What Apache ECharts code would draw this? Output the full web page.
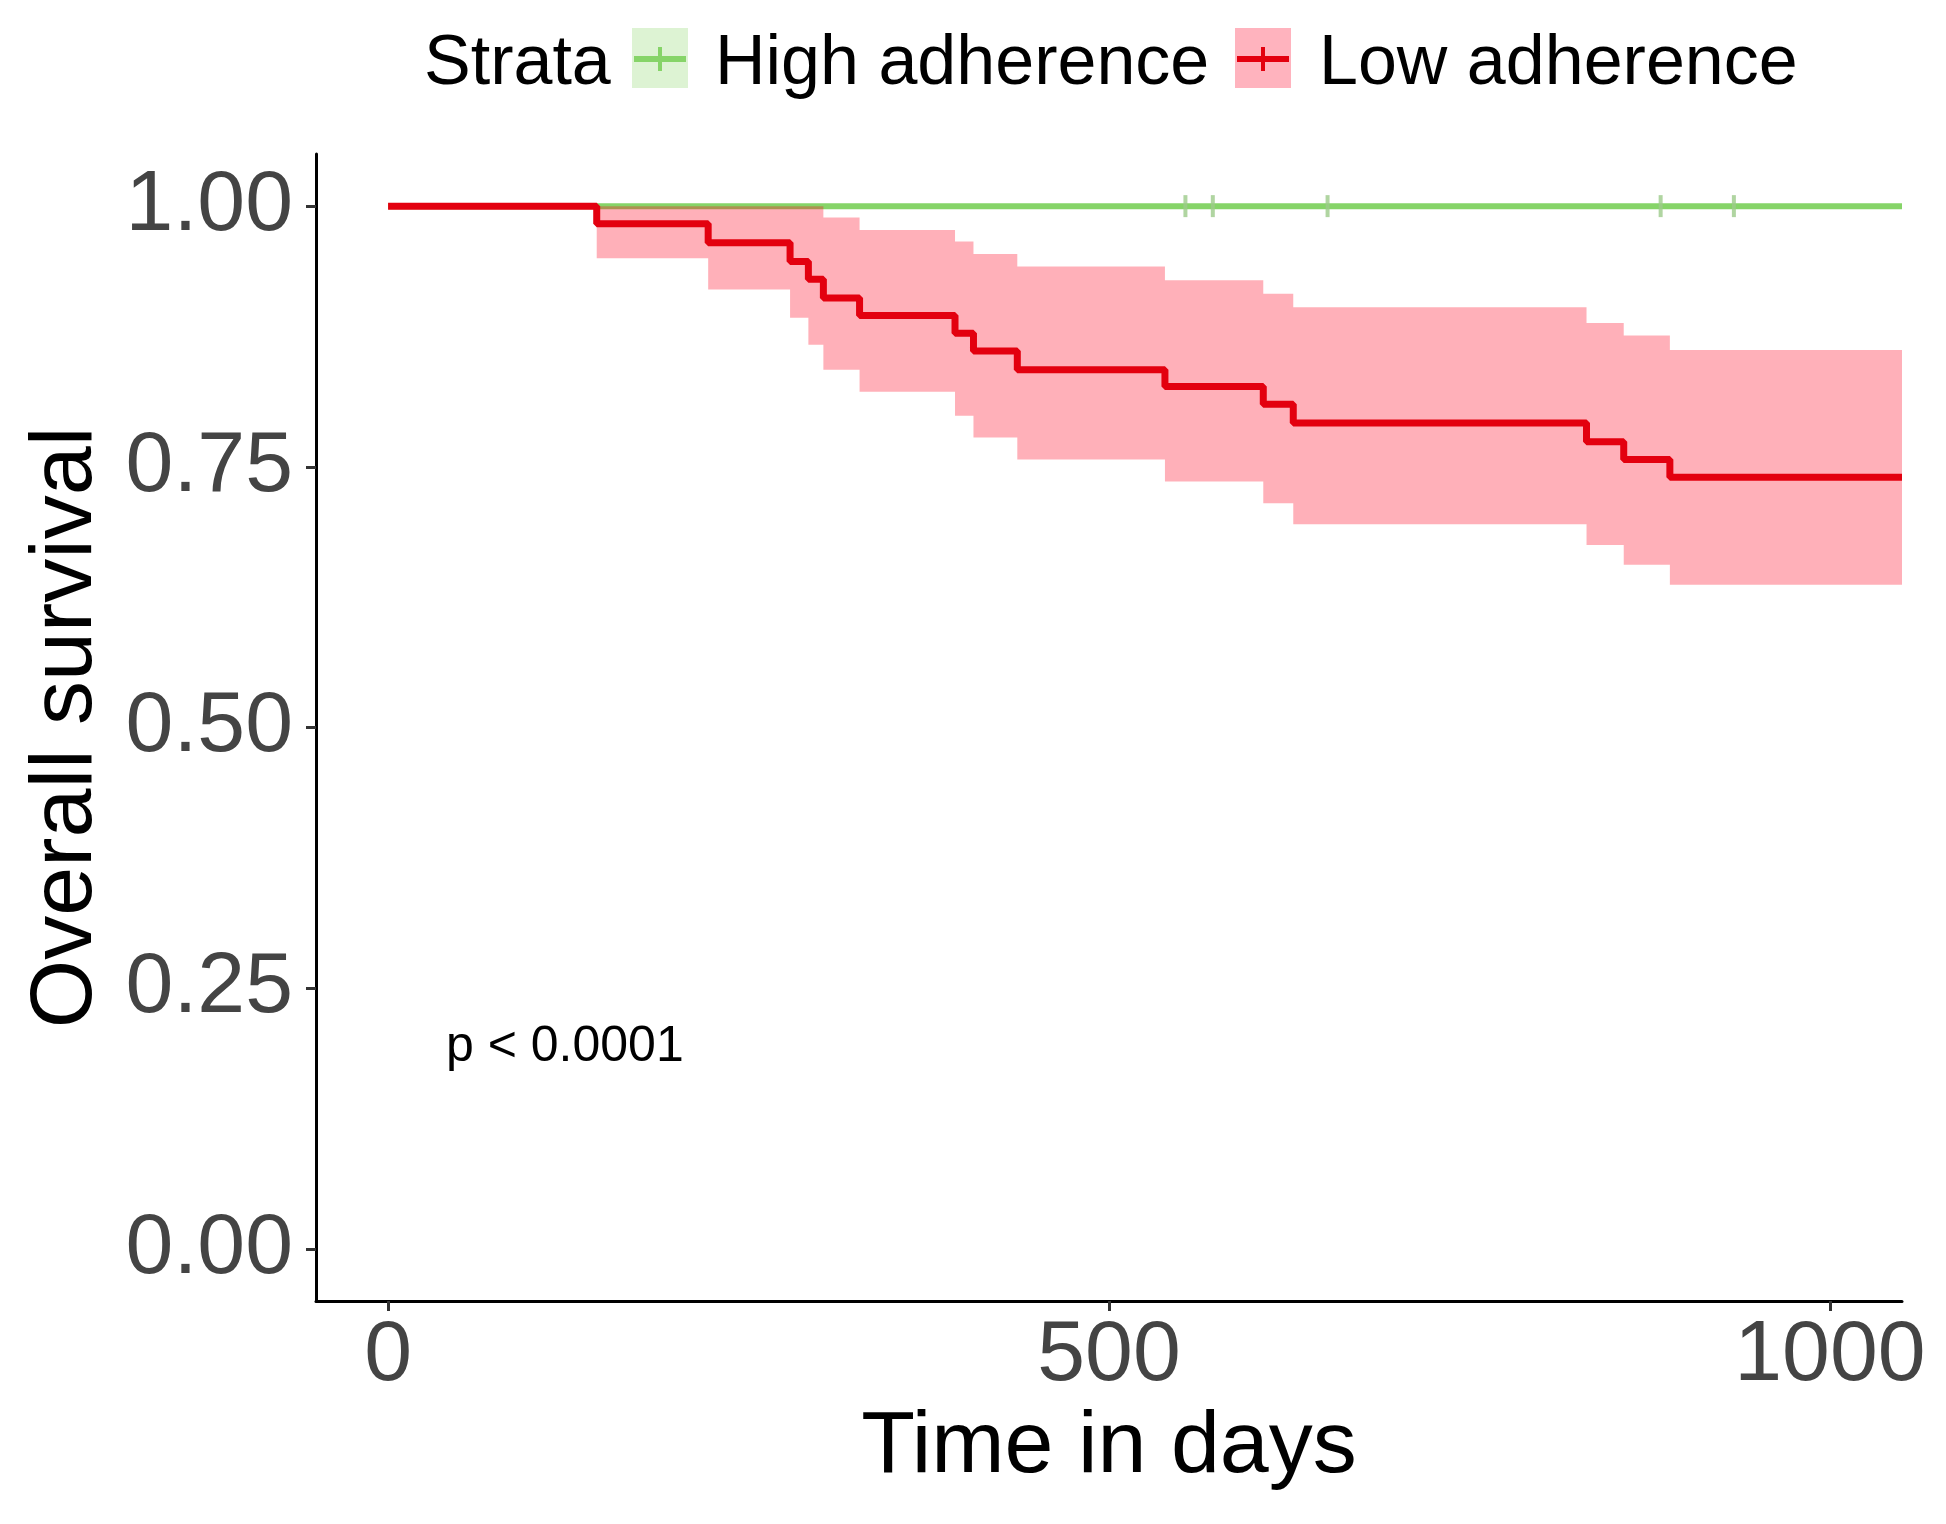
<!DOCTYPE html>
<html>
<head>
<meta charset="utf-8">
<title>Overall survival by adherence</title>
<script src="https://cdn.jsdelivr.net/npm/echarts@6.0.0/dist/echarts.min.js"></script>
<style>
  html, body { margin: 0; padding: 0; background: #fff; }
  #chart { width: 1946px; height: 1524px; }
</style>
</head>
<body>
<div id="chart"></div>
<script>
// Low adherence: Kaplan-Meier steps (time in days, survival)
var lowTimes = [0, 144.7, 222, 278.8, 291.5, 301.9, 327, 393.2, 406, 436.4, 538.8, 607, 627.8, 831.2, 857, 889, 1050];
var lowSurv  = [1, 0.983, 0.965, 0.947, 0.930, 0.912, 0.895, 0.878, 0.861, 0.843, 0.827, 0.810, 0.792, 0.774, 0.757, 0.740, 0.740];
// confidence band per step interval (same index as lowTimes, last time closes the band)
var lowUpper = [1, 1, 1, 1, 1, 0.989, 0.977, 0.966, 0.954, 0.942, 0.929, 0.916, 0.903, 0.888, 0.876, 0.862];
var lowLower = [1, 0.950, 0.920, 0.893, 0.867, 0.843, 0.822, 0.799, 0.778, 0.757, 0.736, 0.715, 0.695, 0.675, 0.656, 0.637];

// High adherence: no events, censored marks only
var highTimes = [0, 1050];
var highSurv  = [1, 1];
var highCensor = [553, 572, 651.6, 882.6, 933.4];

var xTicks = [0, 500, 1000];
var yTicks = [0, 0.25, 0.5, 0.75, 1];
var pText = 'p < 0.0001';

var GREEN = '#86d468';
var RED = '#e3000f';
var BAND = 'rgba(255, 0, 30, 0.31)';
var FONT = '"Liberation Sans", Arial, Helvetica, sans-serif';

function pairs(xs, ys) {
    var out = [];
    for (var i = 0; i < xs.length; i++) out.push([xs[i], ys[i]]);
    return out;
}

var chart = echarts.init(document.getElementById('chart'));

var option = {
    animation: false,
    backgroundColor: '#fff',
    textStyle: { fontFamily: FONT },
    grid: { left: 316, right: 44, top: 154, bottom: 223 },
    xAxis: {
        type: 'value',
        min: -50,
        max: 1050,
        name: 'Time in days',
        nameLocation: 'middle',
        nameGap: 100,
        nameTextStyle: { fontSize: 88, color: '#000', fontFamily: FONT },
        axisLine: { onZero: false, lineStyle: { color: '#000', width: 3 } },
        axisTick: { customValues: xTicks, length: 10, lineStyle: { color: '#333', width: 3 } },
        axisLabel: {
            customValues: xTicks,
            fontSize: 86, color: '#444', margin: 12, fontFamily: FONT,
            formatter: function (v) { return String(v); }
        },
        splitLine: { show: false }
    },
    yAxis: {
        type: 'value',
        min: -0.05,
        max: 1.05,
        name: 'Overall survival',
        nameLocation: 'middle',
        nameGap: 205,
        nameTextStyle: { fontSize: 88, color: '#000', fontFamily: FONT },
        axisLine: { show: true, onZero: false, lineStyle: { color: '#000', width: 3 } },
        axisTick: { show: true, customValues: yTicks, length: 10, lineStyle: { color: '#333', width: 3 } },
        axisLabel: {
            customValues: yTicks,
            fontSize: 86, color: '#444', margin: 23, fontFamily: FONT,
            formatter: function (v) { return v.toFixed(2); }
        },
        splitLine: { show: false }
    },
    series: [
        {
            name: 'High adherence',
            type: 'line',
            data: pairs(highTimes, highSurv),
            showSymbol: false,
            lineStyle: { color: GREEN, width: 6 },
            z: 1
        },
        {
            name: 'Low adherence band',
            type: 'custom',
            data: [[0]],
            z: 2,
            renderItem: function (params, api) {
                var pts = [];
                var i;
                for (i = 0; i < lowUpper.length; i++) {
                    pts.push(api.coord([lowTimes[i], lowUpper[i]]));
                    pts.push(api.coord([lowTimes[i + 1], lowUpper[i]]));
                }
                for (i = lowLower.length - 1; i >= 0; i--) {
                    pts.push(api.coord([lowTimes[i + 1], lowLower[i]]));
                    pts.push(api.coord([lowTimes[i], lowLower[i]]));
                }
                return { type: 'polygon', shape: { points: pts }, style: { fill: BAND } };
            }
        },
        {
            name: 'Low adherence',
            type: 'line',
            step: 'end',
            data: pairs(lowTimes, lowSurv),
            showSymbol: false,
            lineStyle: { color: RED, width: 7 },
            z: 3
        },
        {
            name: 'High adherence censored',
            type: 'scatter',
            data: highCensor.map(function (t) { return [t, 1]; }),
            symbol: 'rect',
            symbolSize: [4, 22],
            itemStyle: { color: '#9cca8a' },
            z: 4
        }
    ],
    graphic: [
        { type: 'text', left: 424, top: 30, style: { text: 'Strata', font: '70px ' + FONT, fill: '#000' } },
        { type: 'rect', shape: { x: 632, y: 28, width: 56, height: 60 }, style: { fill: '#ddf3d3' } },
        { type: 'line', shape: { x1: 634, y1: 59, x2: 686, y2: 59 }, style: { stroke: GREEN, lineWidth: 6 } },
        { type: 'line', shape: { x1: 660, y1: 47, x2: 660, y2: 71 }, style: { stroke: GREEN, lineWidth: 4 } },
        { type: 'text', left: 715, top: 30, style: { text: 'High adherence', font: '70px ' + FONT, fill: '#000' } },
        { type: 'rect', shape: { x: 1235, y: 28, width: 56, height: 60 }, style: { fill: '#ffb3be' } },
        { type: 'line', shape: { x1: 1237, y1: 59, x2: 1289, y2: 59 }, style: { stroke: RED, lineWidth: 6 } },
        { type: 'line', shape: { x1: 1263, y1: 47, x2: 1263, y2: 71 }, style: { stroke: RED, lineWidth: 4 } },
        { type: 'text', left: 1319, top: 30, style: { text: 'Low adherence', font: '70px ' + FONT, fill: '#000' } },
        { type: 'text', left: 446, top: 1022, style: { text: pText, font: '50px ' + FONT, fill: '#000' } }
    ]
};

chart.setOption(option);
</script>
</body>
</html>
